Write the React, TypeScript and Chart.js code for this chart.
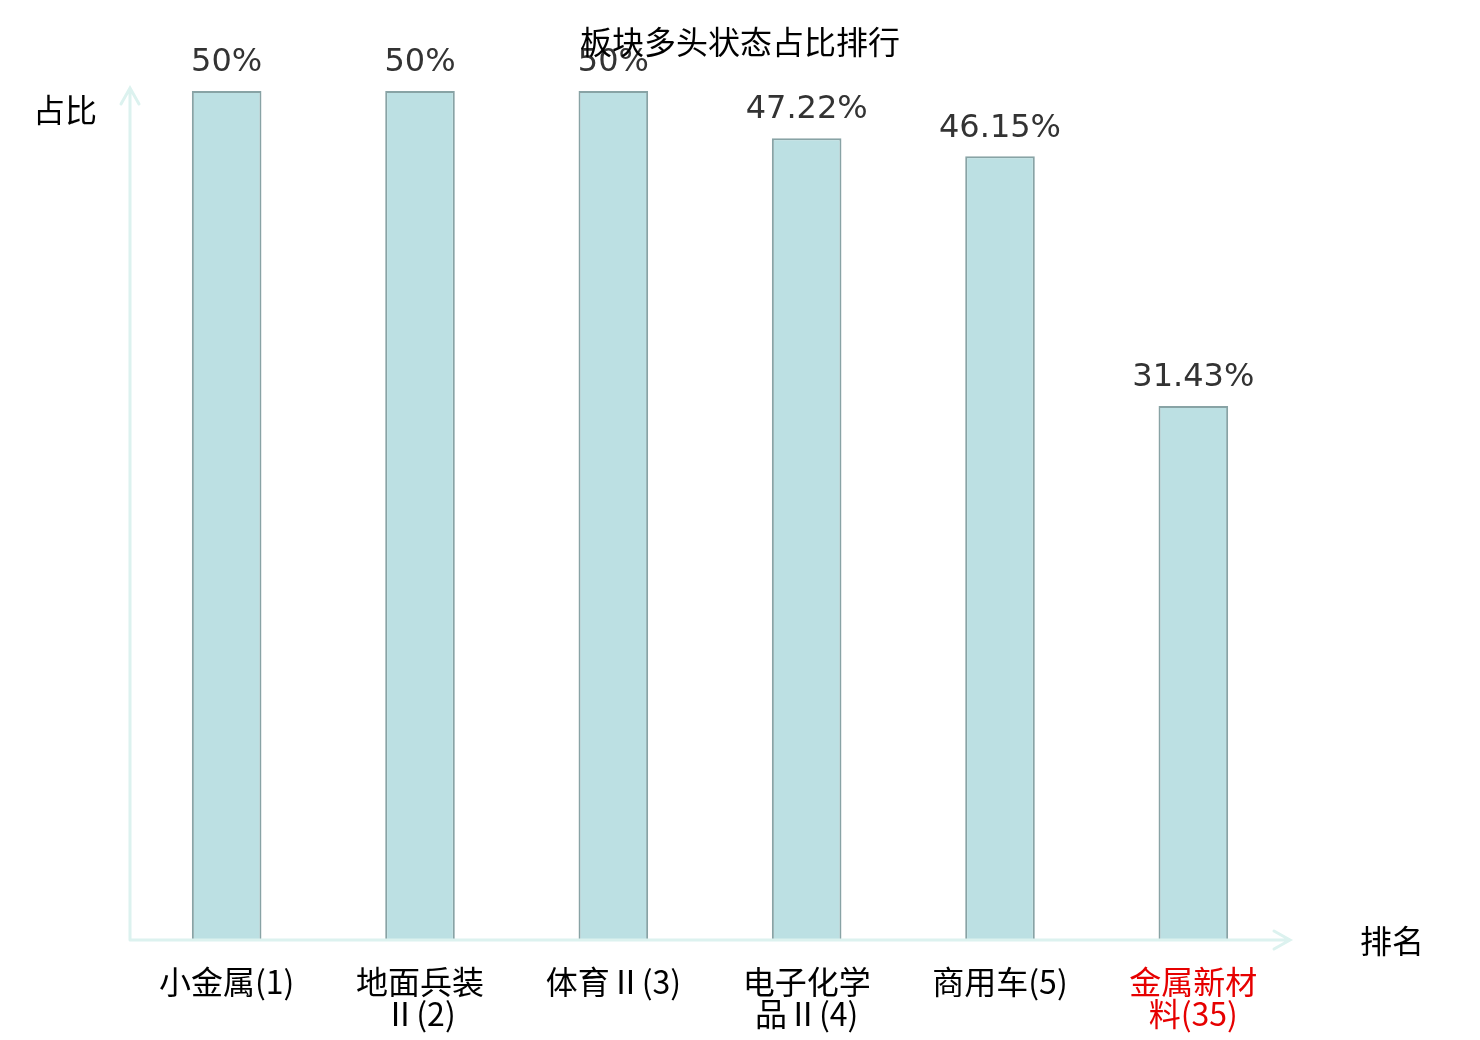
import React, { useEffect, useRef } from "react";
import { Chart, registerables } from "chart.js";

Chart.register(...registerables);

const categories: (string | string[])[] = [
  "小金属(1)",
  ["地面兵装", "Ⅱ(2)"],
  "体育Ⅱ(3)",
  ["电子化学", "品Ⅱ(4)"],
  "商用车(5)",
  ["金属新材", "料(35)"],
];
const values: number[] = [50, 50, 50, 47.22, 46.15, 31.43];
const valueLabels: string[] = ["50%", "50%", "50%", "47.22%", "46.15%", "31.43%"];
const labelColors: string[] = ["#000", "#000", "#000", "#000", "#000", "#e60000"];
const titleText = "板块多头状态占比排行";
const yName = "占比";
const xName = "排名";

const CJK = '"Noto Sans CJK SC", "Noto Sans", sans-serif';
const AXIS_COLOR = "#dcf2ef";

const overlay = {
  id: "overlay",
  afterDatasetsDraw(chart: any) {
    const ctx = chart.ctx;
    const area = chart.chartArea;
    ctx.save();
    // axes with arrows
    ctx.strokeStyle = AXIS_COLOR;
    ctx.lineWidth = 3;
    ctx.lineCap = "round";
    ctx.beginPath();
    ctx.moveTo(area.left, area.bottom + 1);
    ctx.lineTo(area.left, area.top - 3);
    ctx.moveTo(area.left - 9, area.top + 13);
    ctx.lineTo(area.left, area.top - 3);
    ctx.lineTo(area.left + 9, area.top + 13);
    ctx.moveTo(area.left, area.bottom + 1);
    ctx.lineTo(area.right, area.bottom + 1);
    ctx.moveTo(area.right - 16, area.bottom - 8);
    ctx.lineTo(area.right, area.bottom + 1);
    ctx.lineTo(area.right - 16, area.bottom + 10);
    ctx.stroke();

    // value labels
    const meta = chart.getDatasetMeta(0);
    ctx.fillStyle = "#333";
    ctx.font = '32px "DejaVu Sans", sans-serif';
    ctx.textAlign = "center";
    ctx.textBaseline = "bottom";
    meta.data.forEach((bar: any, i: number) => {
      ctx.fillText(valueLabels[i], bar.x, bar.y - 12);
    });

    // title and axis names
    ctx.fillStyle = "#000";
    ctx.font = "32px " + CJK;
    ctx.textBaseline = "middle";
    ctx.textAlign = "center";
    ctx.fillText(titleText, 740, 42);
    ctx.textAlign = "left";
    ctx.fillText(yName, 33, 110);
    ctx.fillText(xName, 1360, 941);
    ctx.restore();
  },
};

export default function App() {
  const ref = useRef<HTMLCanvasElement | null>(null);
  useEffect(() => {
    document.body.style.margin = "0";
    const chart = new Chart(ref.current as HTMLCanvasElement, {
      type: "bar",
      data: {
        labels: categories,
        datasets: [
          {
            data: values,
            backgroundColor: "#bce0e3",
            borderColor: "#88a3a5",
            borderWidth: 2,
            barPercentage: 0.72,
            categoryPercentage: 0.5,
          },
        ],
      },
      options: {
        animation: false,
        responsive: false,
        devicePixelRatio: 1,
        layout: { padding: { left: 130, right: 190, top: 91, bottom: 0 } },
        plugins: {
          legend: { display: false },
          title: { display: false },
          tooltip: { enabled: false },
        },
        scales: {
          x: {
            grid: { display: false },
            border: { display: false },
            ticks: {
              color: (c: any) => labelColors[c.index] || "#000",
              font: { family: CJK, size: 32, lineHeight: 1.0 },
              padding: 19,
              maxRotation: 0,
              autoSkip: false,
            },
            afterFit: (scale: any) => {
              scale.height = 101;
            },
          },
          y: {
            display: false,
            min: 0,
            max: 50,
          },
        },
      },
      plugins: [overlay],
    });
    return () => chart.destroy();
  }, []);
  return (
    <div style={{ width: 1480, height: 1040, background: "#fff" }}>
      <canvas ref={ref} width={1480} height={1040} style={{ display: "block" }} />
    </div>
  );
}
